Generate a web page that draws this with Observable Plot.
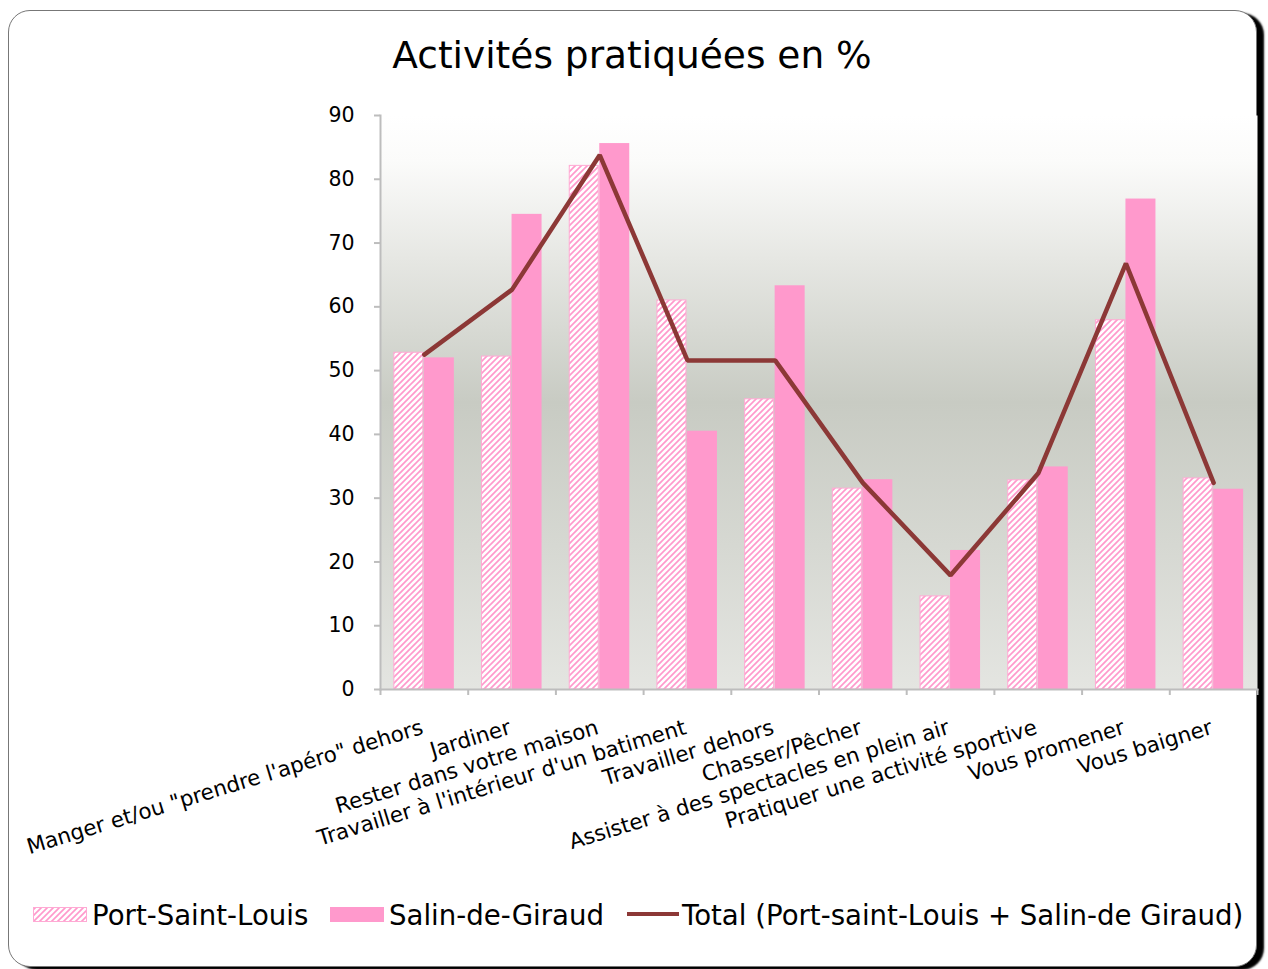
<!DOCTYPE html>
<html><head><meta charset="utf-8">
<script src="https://cdn.jsdelivr.net/npm/d3@7"></script>
<script src="https://cdn.jsdelivr.net/npm/@observablehq/plot@0.6"></script>
<style>
html,body{margin:0;padding:0;background:#fff;width:1268px;height:969px;overflow:hidden;font-family:"DejaVu Sans",Verdana,sans-serif;}
#frame{position:absolute;left:8px;top:10px;width:1247px;height:955px;border:1px solid #777;border-radius:22px;box-shadow:7px 3px 2px #000;background:#fff;}
#title{position:absolute;left:0;width:1264px;top:37px;text-align:center;font-size:37.5px;line-height:37px;color:#000;}
#chart{position:absolute;left:0;top:0;}
.lg{position:absolute;top:902px;font-size:27.6px;line-height:27px;color:#000;white-space:nowrap;}
.sw{position:absolute;}
</style>
</head><body>
<div id="frame"></div>
<div id="title"></div>
<div id="chart"></div>
<div id="legend"></div>
<script>
const title = "Activités pratiquées en %";
const categories = [
  "Manger et/ou \"prendre l'apéro\" dehors",
  "Jardiner",
  "Rester dans votre maison",
  "Travailler à l'intérieur d'un batiment",
  "Travailler dehors",
  "Chasser/Pêcher",
  "Assister à des spectacles en plein air",
  "Pratiquer une activité sportive",
  "Vous promener",
  "Vous baigner"
];
const seriesNames = ["Port-Saint-Louis", "Salin-de-Giraud", "Total (Port-saint-Louis + Salin-de Giraud)"];
const portSaintLouis = [52.8, 52.2, 82.1, 61.0, 45.5, 31.5, 14.6, 32.8, 57.9, 33.1];
const salinDeGiraud = [52.0, 74.5, 85.6, 40.5, 63.3, 32.9, 21.8, 34.9, 76.9, 31.4];
const total = [52.5, 62.7, 83.8, 51.6, 51.6, 32.4, 17.9, 33.9, 66.8, 32.4];
const yTicks = [0, 10, 20, 30, 40, 50, 60, 70, 80, 90];

const pink = "#ff99cc", lineColor = "#8c3836", axisGray = "#bdbdbd";
const W = 1268, H = 880, mL = 380, mR = 11, mT = 115, mB = H - 689;
const step = (W - mL - mR) / categories.length;
const barW = 30;
const rows = categories.map((c, i) => ({c, psl: portSaintLouis[i], sdg: salinDeGiraud[i], tot: total[i]}));

document.getElementById("title").textContent = title;

const svg = Plot.plot({
  width: W, height: H,
  marginLeft: mL, marginRight: mR, marginTop: mT, marginBottom: mB,
  style: {background: "transparent", fontFamily: "DejaVu Sans, Verdana, sans-serif", fontSize: "20px", color: "black", overflow: "visible"},
  x: {type: "band", domain: categories, padding: 0, round: false, axis: null},
  y: {domain: [0, 90], axis: null},
  marks: [
    Plot.frame({fill: "url(#bgGrad)", stroke: "none"}),
    Plot.barY(rows, {x: "c", y: "psl", fill: "url(#hatch)", stroke: "#ffaad4", strokeWidth: 1, insetLeft: step / 2 - barW, insetRight: step / 2 + 1}),
    Plot.barY(rows, {x: "c", y: "sdg", fill: pink, insetLeft: step / 2, insetRight: step / 2 - barW}),
    Plot.frame({anchor: "left", stroke: axisGray, strokeWidth: 2}),
    Plot.frame({anchor: "bottom", stroke: axisGray, strokeWidth: 2}),
    Plot.axisY({ticks: yTicks, tickSize: 6, tickPadding: 20, stroke: axisGray, strokeWidth: 2, fill: "black", fontSize: 20.5, label: null}),
    Plot.axisX({ticks: categories, tickSize: 6, dx: -step / 2, stroke: axisGray, strokeWidth: 2, fill: "none", label: null}),
    Plot.axisX({ticks: categories.slice(-1), tickSize: 6, dx: step / 2, stroke: axisGray, strokeWidth: 2, fill: "none", label: null}),
    Plot.text(categories, {x: d => d, frameAnchor: "bottom", dy: 44, rotate: -17, textAnchor: "end", lineAnchor: "bottom", fontSize: 21.4, fill: "black"}),
    Plot.line(rows, {x: "c", y: "tot", stroke: lineColor, strokeWidth: 4.5, strokeLinejoin: "miter"})
  ]
});

const defs = d3.select(svg).insert("defs", ":first-child");
const g = defs.append("linearGradient").attr("id", "bgGrad").attr("x1", 0).attr("y1", 0).attr("x2", 0).attr("y2", 1);
[[0, "#ffffff"], [0.08, "#fbfbfa"], [0.25, "#e6e7e3"], [0.5, "#c8cbc3"], [0.75, "#d6d8d2"], [1, "#e4e5e1"]]
  .forEach(([o, c]) => g.append("stop").attr("offset", o).attr("stop-color", c));
function addHatch(d, id) {
  const p = d.append("pattern").attr("id", id).attr("patternUnits", "userSpaceOnUse").attr("width", 6).attr("height", 6);
  p.append("rect").attr("width", 6).attr("height", 6).attr("fill", pink);
  p.append("path").attr("d", "M-1.5,1.5 L1.5,-1.5 M0,6 L6,0 M4.5,7.5 L7.5,4.5").attr("stroke", "#fff").attr("stroke-width", 2.6);
}
addHatch(defs, "hatch");
document.getElementById("chart").appendChild(svg);

// Legend
const legend = d3.select("#legend");
const items = [
  {name: seriesNames[0], sx: 33, tx: 92, kind: "hatch"},
  {name: seriesNames[1], sx: 330, tx: 389, kind: "solid"},
  {name: seriesNames[2], sx: 627, tx: 682, kind: "line"}
];
items.forEach(it => {
  if (it.kind === "line") {
    legend.append("div").attr("class", "sw").style("left", it.sx + "px").style("top", "912px")
      .style("width", "52px").style("height", "4px").style("background", lineColor);
  } else {
    const s = legend.append("svg").attr("class", "sw").style("left", it.sx + "px").style("top", "907px")
      .attr("width", 54).attr("height", 15);
    if (it.kind === "hatch") {
      addHatch(s.append("defs"), "hatchLegend");
      s.append("rect").attr("x", 0.5).attr("y", 0.5).attr("width", 53).attr("height", 14).attr("fill", "url(#hatchLegend)").attr("stroke", "#ffaad4");
    } else {
      s.append("rect").attr("width", 54).attr("height", 15).attr("fill", pink);
    }
  }
  legend.append("div").attr("class", "lg").style("left", it.tx + "px").text(it.name);
});
</script>
</body></html>
